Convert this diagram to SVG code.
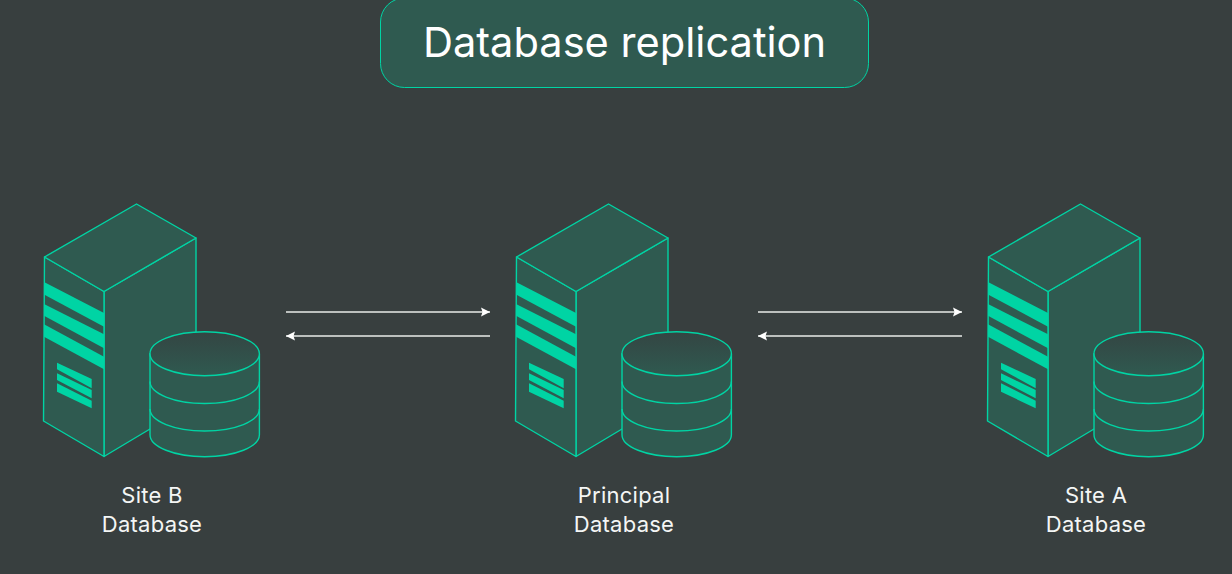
<svg xmlns="http://www.w3.org/2000/svg" width="1232" height="574" viewBox="0 0 1232 574">
<style>
.bg{fill:#383f3f}
.pane{fill:#2f5a50;stroke:#00d4a4;stroke-width:1.4;stroke-linejoin:round}
.line{fill:none;stroke:#00d4a4;stroke-width:1.4}
.bar{fill:#00d4a4}
.label{font-family:Inter,"Noto Sans",sans-serif;font-size:22px;font-weight:400;letter-spacing:.25px;fill:#f4f6f5;text-anchor:middle}
.title{font-family:Inter,"Noto Sans",sans-serif;font-size:41.6px;font-weight:400;fill:#fff;text-anchor:middle}
.arrow{stroke:#e8ecea;stroke-width:1.6;fill:none;marker-end:url(#head)}
</style>
<defs>
<marker id="head" markerUnits="userSpaceOnUse" markerWidth="10" markerHeight="10" refX="9" refY="5" orient="auto">
<path d="M0 .5L9 5L0 9.5L1.5 5Z" fill="#fff"/>
</marker>
<linearGradient id="dbTop" x1="0" y1="0" x2="0" y2="1">
<stop offset="0" stop-color="#344543"/>
<stop offset="1" stop-color="#2f5a50"/>
</linearGradient>
<g id="server">
<path class="pane" d="M104 291.5L196 238V401.5L104 456.5Z"/>
<path class="pane" d="M44.5 257L104 291.5V456.5L43.5 421Z"/>
<path class="pane" d="M44.5 257L136.5 204L196 238L104 291.5Z"/>
<path class="bar" d="M44 282L104 313V326.7L44 294.5Z"/>
<path class="bar" d="M44 304L104 334.3V348.3L44 315.7Z"/>
<path class="bar" d="M44 324.3L104 356.7V369.3L44 336.7Z"/>
<path class="bar" d="M57 362.7L91.7 379V388.3L57 369.3Z"/>
<path class="bar" d="M57 373.3L91.7 390V398.3L57 380Z"/>
<path class="bar" d="M57 383.3L91.7 400.7V408.3L57 391.7Z"/>
<path class="pane" d="M150 353.7V434.7A54.7 22 0 0 0 259.4 434.7V353.7Z"/>
<ellipse cx="204.7" cy="353.7" rx="54.7" ry="22" fill="url(#dbTop)" stroke="#00d4a4" stroke-width="1.4"/>
<path class="line" d="M150 381.5A54.7 22 0 0 0 259.4 381.5"/>
<path class="line" d="M150 409A54.7 22 0 0 0 259.4 409"/>
</g>
</defs>
<rect class="bg" width="1232" height="574"/>
<g id="title-node">
<rect class="pane" x="380.5" y="-2" width="488" height="89.5" rx="24" style="stroke-width:1"/>
<text class="title" x="624.5" y="57">Database replication</text>
</g>
<g id="connectors">
<path class="arrow" d="M286 312H490"/>
<path class="arrow" d="M490 336H286"/>
<path class="arrow" d="M758 312H962"/>
<path class="arrow" d="M962 336H758"/>
</g>
<g id="site-b">
<use href="#server"/>
<text class="label" x="152" y="503">Site B</text>
<text class="label" x="152" y="532">Database</text>
</g>
<g id="principal">
<use href="#server" x="472"/>
<text class="label" x="624" y="503">Principal</text>
<text class="label" x="624" y="532">Database</text>
</g>
<g id="site-a">
<use href="#server" x="944"/>
<text class="label" x="1096" y="503">Site A</text>
<text class="label" x="1096" y="532">Database</text>
</g>
</svg>
